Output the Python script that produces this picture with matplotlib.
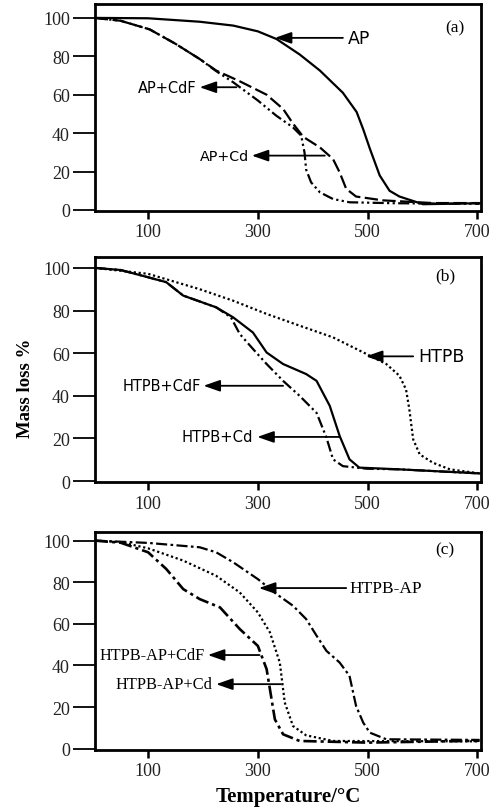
import matplotlib.pyplot as plt

# ---- data (temperature in C, mass %) ----
# panel (a)
ap_t = [3, 100, 194, 255, 300, 334, 376, 413, 455, 480, 492, 504, 522, 540, 558, 601, 704]
ap_m = [100, 99.8, 98, 96, 93, 89, 81, 72.6, 61, 51, 42, 32, 18, 10, 7, 3, 3.5]

ap_cdf_t = [3, 50, 103, 150, 194, 224, 267, 316, 346, 364, 383, 413, 437, 449, 461, 479, 528, 619, 704]
ap_cdf_m = [100, 98.5, 94, 86.5, 78.6, 72.6, 67, 60, 52.6, 45, 38, 32.6, 26.5, 19.6, 11, 7, 5, 3.6, 3.6]

ap_cd_t = [3, 50, 103, 150, 194, 224, 255, 300, 334, 364, 379, 385, 388, 397, 413, 437, 467, 550, 704]
ap_cd_m = [100, 98.5, 94, 86.5, 78.6, 72.3, 66.5, 57, 49, 43, 38.7, 30, 21, 14.4, 9.2, 5.7, 4, 3.5, 3.2]

# panel (b)
htpb_t = [3, 100, 194, 255, 316, 376, 437, 498, 534, 558, 570, 576, 583, 595, 619, 650, 704]
htpb_m = [100, 97.2, 90, 84.6, 78.4, 72.9, 67.4, 59.6, 54.9, 49.4, 43, 33.7, 19.6, 12.5, 8.6, 5.5, 3.6]

htpb_cd_t = [3, 50, 100, 133, 164, 224, 255, 291, 316, 346, 388, 407, 431, 449, 467, 485, 558, 704]
htpb_cd_m = [100, 99, 95.6, 93.3, 87, 81.5, 76.8, 69.7, 60.3, 54.9, 50.2, 47, 35.3, 21.2, 10.2, 6.3, 5.5, 3.6]

htpb_cdf_t = [3, 50, 100, 133, 164, 224, 251, 267, 291, 316, 346, 376, 407, 425, 437, 455, 498, 558, 704]
htpb_cdf_m = [100, 99, 95.6, 93.3, 87, 81.5, 76.8, 69, 62, 54.9, 47, 40, 32, 20.4, 10.2, 7, 5.8, 5.5, 3.6]

# panel (c)
hap_t = [3, 100, 194, 224, 255, 300, 334, 364, 388, 407, 425, 449, 467, 479, 492, 504, 534, 704]
hap_m = [100, 98.9, 96.8, 94.4, 89.6, 81.5, 74.3, 68.7, 62.3, 54.3, 47, 41.4, 35, 20.5, 12.5, 7.7, 4.5, 4.2]

hap_cdf_t = [3, 50, 100, 133, 164, 194, 231, 267, 300, 316, 322, 331, 346, 376, 500, 704]
hap_cdf_m = [100, 99, 94.4, 86.4, 76.7, 71.9, 67.9, 57.5, 49.4, 38.2, 28.6, 14.1, 6.9, 3.7, 2.9, 3.8]

hap_cd_t = [3, 50, 100, 164, 224, 267, 300, 322, 340, 349, 364, 388, 437, 704]
hap_cd_m = [100, 99.3, 96.3, 90.4, 83.1, 75.1, 65.5, 55.9, 41.4, 22.2, 10.9, 6.4, 3.7, 3.5]

x_ticks = [100, 300, 500, 700]
y_ticks = [0, 20, 40, 60, 80, 100]

serif = 'Liberation Serif'
sans = 'DejaVu Sans'

fig = plt.figure(figsize=(4.94, 8.12), dpi=100)
ax_a = fig.add_axes([0.192, 0.739, 0.781, 0.255])
ax_b = fig.add_axes([0.192, 0.405, 0.781, 0.277])
ax_c = fig.add_axes([0.192, 0.0755, 0.781, 0.2685])

for ax, top in [(ax_a, 107.3), (ax_b, 105), (ax_c, 104.3)]:
    ax.set_xlim(3, 706)
    ax.set_ylim(-0.5, top)
    ax.set_xticks(x_ticks)
    ax.set_yticks(y_ticks)
    ax.tick_params(axis='y', length=16, width=1.3, labelsize=13, pad=2, labelcolor='#222222')
    ax.tick_params(axis='x', length=6, width=1.8, labelsize=13, pad=3, labelcolor='#222222')
    for lbl in ax.get_xticklabels() + ax.get_yticklabels():
        lbl.set_family(serif)
    for sp in ax.spines.values():
        sp.set_linewidth(2)

lw = 1.6
dash_dot_dot = (0, (5, 1.5, 1, 1.5, 1, 1.5))
dash_dot = (0, (5, 1.5, 1.2, 1.5))


def arrow(ax, text, x_text, y, x_head, x_tail, family, ha='left', fs=10.5):
    ax.annotate('', xy=(x_head, y), xytext=(x_tail, y),
                arrowprops=dict(arrowstyle='-|>,head_length=1.0,head_width=0.35', color='black',
                                lw=1.3, shrinkA=0, shrinkB=0))
    ax.text(x_text, y, text, ha=ha, va='center', family=family, fontsize=fs)


# (a)
ax_a.plot(ap_t, ap_m, color='black', lw=lw, ls='-')
ax_a.plot(ap_cdf_t, ap_cdf_m, color='black', lw=lw, ls=(0, (6, 2)))
ax_a.plot(ap_cd_t, ap_cd_m, color='black', lw=lw, ls=dash_dot_dot)
arrow(ax_a, 'AP', 464, 89.6, 331, 455, sans, fs=12.5)
arrow(ax_a, 'AP+CdF', 188, 63.9, 194, 261, sans, ha='right', fs=10.5)
arrow(ax_a, 'AP+Cd', 284, 28.3, 289, 422, sans, ha='right', fs=10.3)
ax_a.text(659, 95, '(a)', ha='center', va='center', family=serif, fontsize=12.5)

# (b)
ax_b.plot(htpb_t, htpb_m, color='black', lw=lw, ls=(0, (1, 1.2)))
ax_b.plot(htpb_cd_t, htpb_cd_m, color='black', lw=lw, ls='-')
ax_b.plot(htpb_cdf_t, htpb_cdf_m, color='black', lw=lw, ls=dash_dot_dot)
arrow(ax_b, 'HTPB', 592, 58.5, 497, 583, sans, fs=12.5)
arrow(ax_b, 'HTPB+CdF', 197, 44.7, 201, 346, sans, ha='right', fs=10.5)
arrow(ax_b, 'HTPB+Cd', 292, 20.7, 299, 449, sans, ha='right', fs=10.6)
ax_b.text(642, 96.5, '(b)', ha='center', va='center', family=serif, fontsize=12.5)
ax_b.set_ylabel('Mass loss %', family=serif, fontweight='bold', fontsize=13.5)
ax_b.yaxis.set_label_coords(-0.158, 0.42)

# (c)
ax_c.plot(hap_t, hap_m, color='black', lw=lw, ls=dash_dot)
ax_c.plot(hap_cdf_t, hap_cdf_m, color='black', lw=1.9, ls=dash_dot)
ax_c.plot(hap_cd_t, hap_cd_m, color='black', lw=lw, ls=(0, (1, 1.2)))
arrow(ax_c, 'HTPB-AP', 467, 77.2, 302, 461, serif, fs=12.5)
arrow(ax_c, 'HTPB-AP+CdF', 203, 45, 209, 303, serif, ha='right', fs=11.7)
arrow(ax_c, 'HTPB-AP+Cd', 218, 31, 224, 342, serif, ha='right', fs=11.8)
ax_c.text(640, 96, '(c)', ha='center', va='center', family=serif, fontsize=12.5)
ax_c.set_xlabel('Temperature/\u00b0C', family=serif, fontweight='bold', fontsize=15)
ax_c.xaxis.set_label_coords(0.5, -0.212)
ax_c.xaxis.label.set_va('center')

fig.savefig('out.png', dpi=100)
plt.close(fig)
